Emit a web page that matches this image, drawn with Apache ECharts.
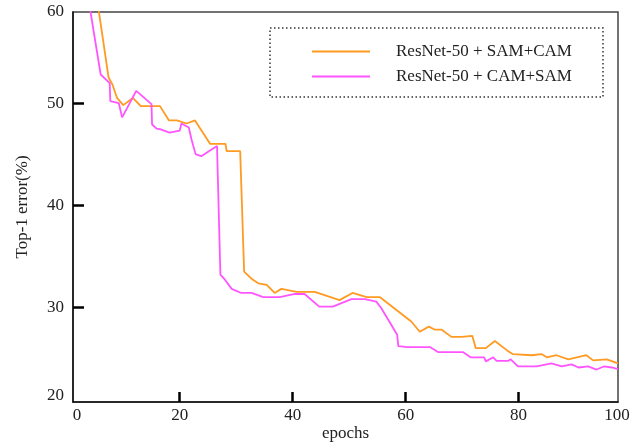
<!DOCTYPE html>
<html>
<head>
<meta charset="utf-8">
<script src="https://cdn.jsdelivr.net/npm/echarts@6/dist/echarts.min.js"></script>
<style>html,body{margin:0;padding:0;background:#fff;}#c{width:634px;height:444px;}</style>
</head>
<body>
<div id="c"></div>
<script>
// Series names
const seriesNames = ['ResNet-50 + SAM+CAM', 'ResNet-50 + CAM+SAM'];

// ResNet-50 + SAM+CAM (orange)
const samCamEpochs = [5.3, 7.4, 8.1, 8.9, 10.0, 11.7, 13.1, 16.5, 18.1, 19.5, 21.2, 22.7, 25.4, 28.1, 28.3, 30.7, 31.4, 32.7, 33.9, 35.4, 36.8, 38.0, 40.7, 43.9, 48.3, 50.6, 53.1, 55.4, 61.0, 62.5, 64.1, 65.2, 66.4, 68.1, 69.9, 71.8, 72.4, 74.2, 75.8, 77.9, 79.0, 82.3, 84.1, 85.0, 86.7, 88.8, 92.0, 93.2, 95.6, 97.6];
const samCamError = [60.4, 52.5, 51.8, 50.5, 49.8, 50.5, 49.7, 49.7, 48.3, 48.3, 48.0, 48.3, 46.0, 46.0, 45.3, 45.3, 33.5, 32.8, 32.35, 32.2, 31.4, 31.8, 31.5, 31.5, 30.7, 31.4, 31.0, 31.0, 28.6, 27.6, 28.1, 27.8, 27.8, 27.1, 27.1, 27.2, 26.0, 26.0, 26.7, 25.8, 25.4, 25.3, 25.4, 25.1, 25.3, 24.9, 25.3, 24.8, 24.9, 24.5];

// ResNet-50 + CAM+SAM (magenta)
const camSamEpochs = [3.8, 6.0, 7.6, 7.7, 9.2, 9.8, 12.3, 15.0, 15.1, 15.9, 16.5, 18.2, 20.0, 20.3, 21.6, 22.1, 22.8, 23.8, 26.6, 27.2, 28.0, 29.2, 30.9, 32.7, 34.8, 37.7, 40.4, 42.1, 44.7, 47.1, 50.4, 52.8, 54.8, 55.7, 58.5, 58.7, 60.3, 64.3, 65.8, 70.2, 71.5, 73.9, 74.2, 75.5, 76.1, 78.2, 78.6, 79.9, 83.2, 85.8, 87.6, 89.4, 90.6, 92.3, 93.8, 95.1, 96.5, 97.6];
const camSamError = [60.3, 52.8, 51.96, 50.2, 50.0, 48.6, 51.2, 49.9, 47.9, 47.5, 47.45, 47.1, 47.3, 48.0, 47.6, 46.4, 45.0, 44.8, 45.8, 33.2, 32.7, 31.8, 31.4, 31.4, 31.0, 31.0, 31.3, 31.3, 30.06, 30.06, 30.8, 30.8, 30.55, 29.9, 27.3, 26.2, 26.1, 26.1, 25.6, 25.6, 25.1, 25.1, 24.7, 25.1, 24.75, 24.75, 24.9, 24.2, 24.2, 24.5, 24.2, 24.4, 24.1, 24.2, 23.9, 24.2, 24.1, 23.95];

// Axis extents and ticks
const xMin = 1.1, xMax = 97.6;
const yMin = 20.72, yMax = 58.92;
const xTickValues = [20, 40, 60, 80];
const xLabelValues = [xMin, 20, 40, 60, 80, xMax];
const xLabelTexts = ['0', '20', '40', '60', '80', '100'];
const yTickValues = [30, 40, 50];
const yLabelValues = [yMin, 30, 40, 50, yMax];
const yLabelTexts = ['20', '30', '40', '50', '60'];

const colors = ['#FF9A22', '#FF55FF'];
const font = 'Liberation Serif';
const txt = '#222';

function pairs(xs, ys) { return xs.map((x, i) => [x, ys[i]]); }

const chart = echarts.init(document.getElementById('c'), null, {renderer: 'canvas'});
chart.setOption({
  animation: false,
  backgroundColor: '#fff',
  grid: {left: 73, right: 16, top: 12, bottom: 42, outerBoundsMode: 'none', containLabel: false,
         show: true, borderColor: '#444', borderWidth: 1.5, backgroundColor: 'transparent'},
  legend: {
    show: true,
    orient: 'vertical',
    left: 307, top: 38,
    icon: 'rect',
    itemWidth: 58, itemHeight: 2.2, itemGap: 8,
    textStyle: {fontFamily: font, fontSize: 17, color: txt, padding: [0, 0, 0, 21]},
    data: seriesNames
  },
  graphic: [{
    type: 'rect', silent: true,
    shape: {x: 270, y: 28, width: 333, height: 69},
    style: {fill: 'none', stroke: '#333', lineWidth: 1.5, lineDash: [1.5, 2.5]}
  }],
  xAxis: {
    type: 'value', min: xMin, max: xMax,
    name: 'epochs', nameLocation: 'middle', nameGap: 23, nameMoveOverlap: false,
    nameTextStyle: {fontFamily: font, fontSize: 17, color: txt},
    axisLine: {lineStyle: {color: '#111', width: 1.5}},
    splitLine: {show: false},
    axisTick: {show: true, inside: true, length: 10, customValues: xTickValues, lineStyle: {color: '#000', width: 2.5}},
    axisLabel: {
      customValues: xLabelValues, margin: 5,
      fontFamily: font, fontSize: 17, color: txt,
      formatter: function (v) {
        const i = xLabelValues.findIndex(a => Math.abs(a - v) < 1e-6);
        if (i === 0) return '{l|' + xLabelTexts[i] + '}';
        if (i === xLabelValues.length - 1) return '{r|' + xLabelTexts[i] + '}';
        return i >= 0 ? xLabelTexts[i] : '';
      },
      rich: {
        l: {fontFamily: font, fontSize: 17, color: txt, padding: [0, 0, 0, 8]},
        r: {fontFamily: font, fontSize: 17, color: txt, padding: [0, 2, 0, 0]}
      }
    }
  },
  yAxis: {
    type: 'value', min: yMin, max: yMax,
    name: 'Top-1 error(%)', nameLocation: 'middle', nameGap: 42, nameMoveOverlap: false,
    nameTextStyle: {fontFamily: font, fontSize: 17, color: txt},
    axisLine: {show: true, lineStyle: {color: '#111', width: 1.5}},
    splitLine: {show: false},
    axisTick: {show: true, inside: true, length: 11, customValues: yTickValues, lineStyle: {color: '#000', width: 2.5}},
    axisLabel: {
      customValues: yLabelValues, margin: 9,
      fontFamily: font, fontSize: 17, color: txt,
      formatter: function (v) {
        const i = yLabelValues.findIndex(a => Math.abs(a - v) < 1e-6);
        if (i === 0) return '{b|' + yLabelTexts[i] + '}';
        return i >= 0 ? yLabelTexts[i] : '';
      },
      rich: {
        b: {fontFamily: font, fontSize: 17, color: txt, padding: [0, 0, 12, 0]}
      }
    }
  },
  series: [
    {
      name: seriesNames[0], type: 'line', data: pairs(samCamEpochs, samCamError),
      symbol: 'none', clip: true, z: 3,
      lineStyle: {color: colors[0], width: 1.8}, itemStyle: {color: colors[0]}
    },
    {
      name: seriesNames[1], type: 'line', data: pairs(camSamEpochs, camSamError),
      symbol: 'none', clip: true, z: 4,
      lineStyle: {color: colors[1], width: 1.8}, itemStyle: {color: colors[1]}
    }
  ]
});
</script>
</body>
</html>
